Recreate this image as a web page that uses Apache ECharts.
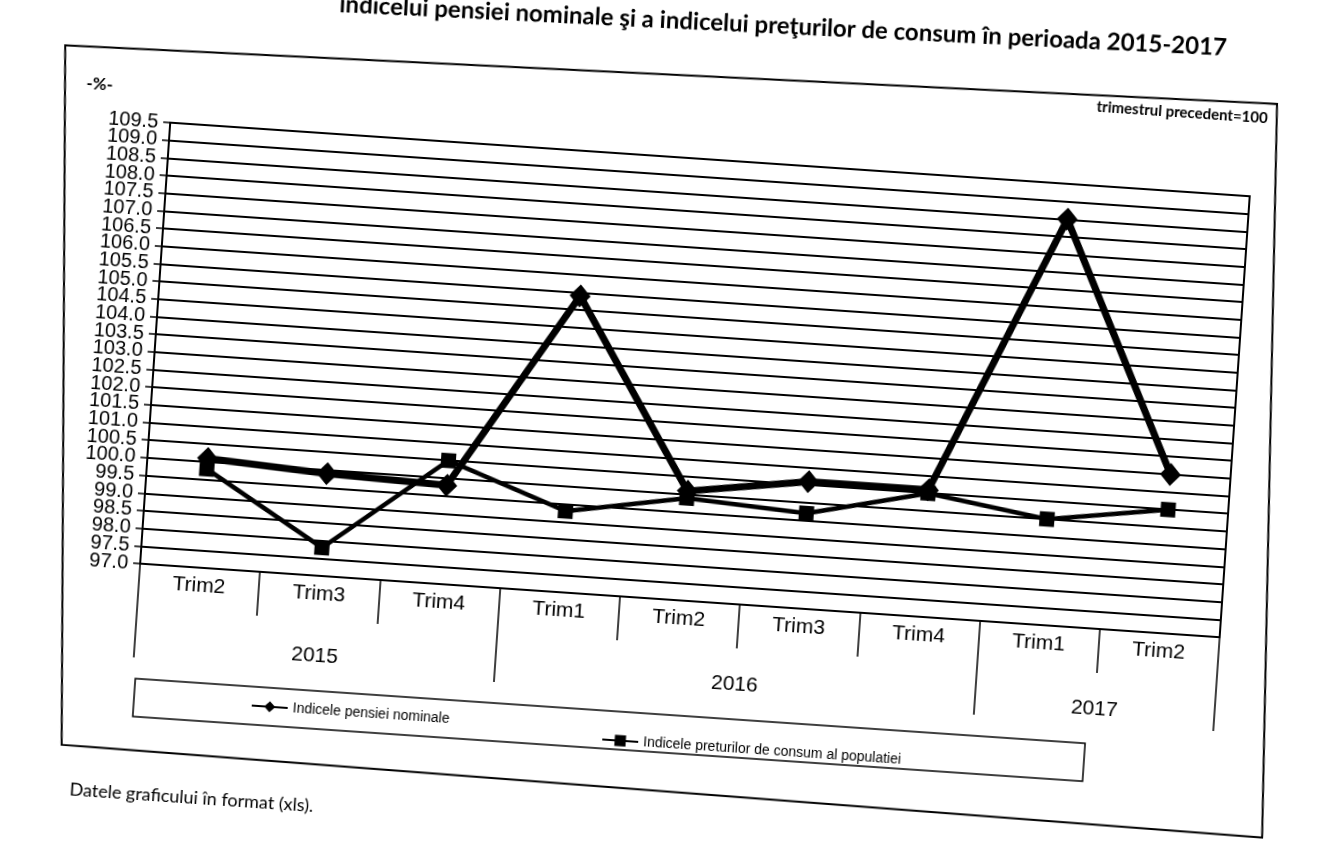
<!DOCTYPE html>
<html>
<head>
<meta charset="utf-8">
<script src="https://cdn.jsdelivr.net/npm/echarts@6/dist/echarts.min.js"></script>
<style>
html,body{margin:0;padding:0;background:#fff;overflow:hidden;width:1331px;height:845px;}
#chart{width:1331px;height:845px;transform:rotate(3.9deg);transform-origin:665px 422px;}
</style>
</head>
<body>
<div id="chart"></div>
<script>
// ---- data ----
const categories = ['Trim2','Trim3','Trim4','Trim1','Trim2','Trim3','Trim4','Trim1','Trim2'];
const years = ['2015','2016','2017'];
const quartersPerYear = [3, 4, 2];
const seriesNames = ['Indicele pensiei nominale', 'Indicele preturilor de consum al populatiei'];
const pensionIndex = [100.1, 99.9, 99.8, 105.4, 100.1, 100.6, 100.6, 108.5, 101.5];
const cpiIndex = [99.8, 97.8, 100.5, 99.3, 99.9, 99.7, 100.5, 100.0, 100.5];
const yMin = 97, yMax = 109.5, yStep = 0.5;
const yTickLabels = ['97.0','97.5','98.0','98.5','99.0','99.5','100.0','100.5','101.0','101.5','102.0','102.5',
  '103.0','103.5','104.0','104.5','105.0','105.5','106.0','106.5','107.0','107.5','108.0','108.5','109.0','109.5'];
const titleText = 'indicelui pensiei nominale şi a indicelui preţurilor de consum în perioada 2015-2017';
const unitText = '-%-';
const baseText = 'trimestrul precedent=100';
const footText = 'Datele graficului în format (xls).';

// year groups -> boundaries and centres on a 0..N scale
const bounds = [0];
quartersPerYear.forEach(n => bounds.push(bounds[bounds.length - 1] + n));
const centers = years.map((y, i) => (bounds[i] + bounds[i + 1]) / 2);

const chart = echarts.init(document.getElementById('chart'));
const black = '#000';
const axisFont = 'Liberation Sans';

chart.setOption({
  animation: false,
  backgroundColor: 'transparent',
  grid: {
    left: 151, right: 98, top: 157, bottom: 246,
    show: true, borderColor: black, borderWidth: 2,
    containLabel: false, outerBoundsMode: 'none'
  },
  legend: [
    {
      data: [seriesNames[0]], left: 266, top: 721, itemWidth: 36, itemHeight: 14, itemGap: 5,
      textStyle: { fontFamily: axisFont, fontSize: 14, color: black }
    },
    {
      data: [seriesNames[1]], left: 618, top: 731, itemWidth: 36, itemHeight: 14, itemGap: 5,
      textStyle: { fontFamily: axisFont, fontSize: 14, color: black }
    }
  ],
  xAxis: [
    {
      type: 'category', data: categories, boundaryGap: true,
      axisLine: { show: true, lineStyle: { color: black, width: 2 } },
      axisTick: { show: true, interval: 0, length: 44, lineStyle: { color: black, width: 1.5 } },
      axisLabel: { interval: 0, margin: 8, fontSize: 21, fontFamily: axisFont, color: black },
      splitLine: { show: false }
    },
    {
      type: 'value', min: 0, max: categories.length, position: 'bottom',
      axisLine: { show: false }, splitLine: { show: false },
      axisTick: { show: true, customValues: bounds, length: 94, lineStyle: { color: black, width: 1.5 } },
      axisLabel: {
        customValues: centers, margin: 70, fontSize: 21, fontFamily: axisFont, color: black,
        formatter: v => { const i = centers.indexOf(v); return i >= 0 ? years[i] : ''; }
      }
    }
  ],
  yAxis: [
    {
      type: 'value', min: yMin, max: yMax, interval: yStep, position: 'left',
      axisLine: { show: true, lineStyle: { color: black, width: 2 } },
      axisTick: { show: true, length: 7, lineStyle: { color: black, width: 1.5 } },
      axisLabel: { show: false },
      splitLine: { show: true, lineStyle: { color: black, width: 2 } }
    },
    {
      type: 'category', data: yTickLabels, boundaryGap: false, position: 'left',
      axisLine: { show: false }, axisTick: { show: false }, splitLine: { show: false },
      axisLabel: { interval: 0, fontSize: 20, margin: 12, color: black, fontFamily: axisFont }
    }
  ],
  series: [
    {
      name: seriesNames[0], type: 'line', data: pensionIndex, xAxisIndex: 0, yAxisIndex: 0,
      symbol: 'diamond', symbolSize: [21, 23],
      lineStyle: { color: black, width: 7 }, itemStyle: { color: black }, z: 3
    },
    {
      name: seriesNames[1], type: 'line', data: cpiIndex, xAxisIndex: 0, yAxisIndex: 0,
      symbol: 'rect', symbolSize: 15,
      lineStyle: { color: black, width: 4.5 }, itemStyle: { color: black }, z: 4
    }
  ],
  graphic: [
    { type: 'polygon', silent: true, shape: { points: [[41, 87], [1254, 63], [1289, 796], [85, 785]] },
      style: { fill: 'none', stroke: black, lineWidth: 2 } },
    { type: 'rect', silent: true, shape: { x: 154, y: 714, width: 952, height: 38 },
      style: { fill: 'none', stroke: black, lineWidth: 1.5 } },
    { type: 'text', x: 756, y: 19, rotation: 0.019,
      style: { text: titleText, font: 'bold 24px Lato', fill: black, align: 'center', verticalAlign: 'middle' } },
    { type: 'text', x: 78, y: 124,
      style: { text: unitText, font: 'bold 17px Lato', fill: black, align: 'center', verticalAlign: 'middle' } },
    { type: 'text', x: 1160, y: 78,
      style: { text: baseText, font: 'bold 15px Lato', fill: black, align: 'center', verticalAlign: 'middle' } },
    { type: 'text', x: 96, y: 829,
      style: { text: footText, font: '18px Lato', fill: black, align: 'left', verticalAlign: 'middle' } }
  ]
});
</script>
</body>
</html>
